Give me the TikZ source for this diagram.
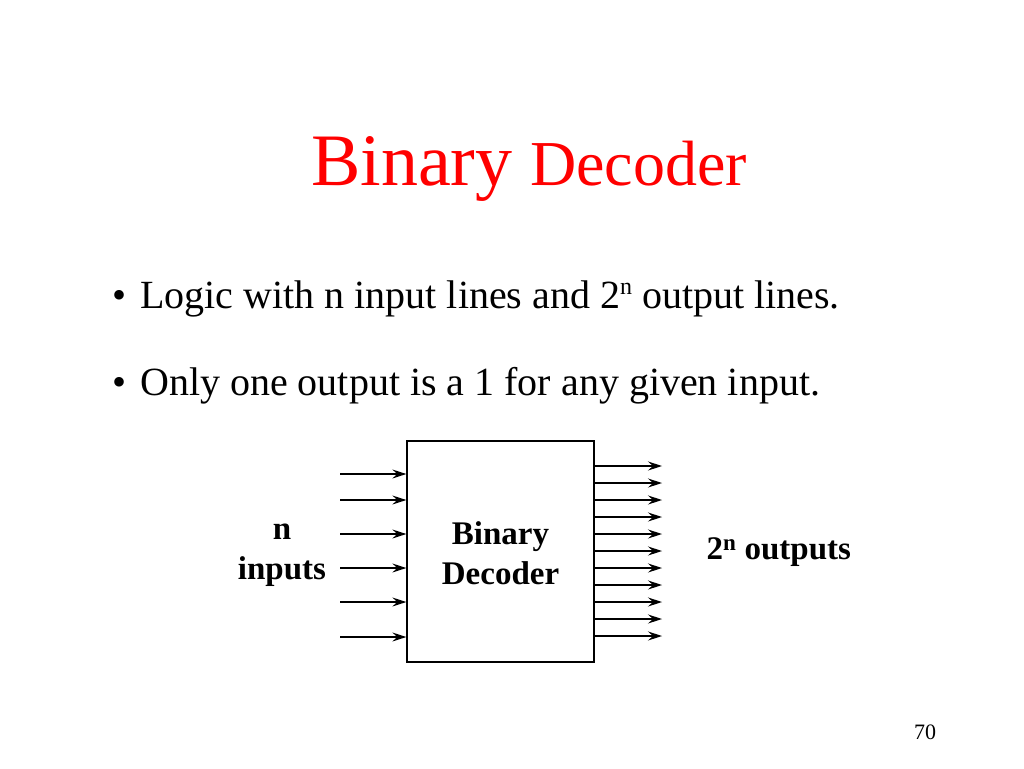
\documentclass[tikz,border=0pt]{standalone}
\usepackage{fontspec}
\usetikzlibrary{arrows.meta}
\setmainfont{Liberation Serif}
\begin{document}
\begin{tikzpicture}[x=1pt,y=-1pt,
  arr/.style={-{Stealth[length=14pt,width=9pt,inset=5pt]},line width=1.3pt},
  lbl/.style={font=\fontsize{33}{40}\selectfont\bfseries,align=center}]
\useasboundingbox (0,0) rectangle (1024,768);
\node[anchor=base west,red,inner sep=0] (t1) at (311,185) {\fontsize{74}{78}\selectfont Binary};
\node[anchor=base west,red,inner sep=0] (t2) at (530,185) {\fontsize{64}{70}\selectfont Decoder};
\node[anchor=base west,inner sep=0] (b1) at (112,308) {\fontsize{40}{44}\selectfont \textbullet\hspace{14pt}Logic with n input lines and 2\raisebox{14pt}{\fontsize{24}{26}\selectfont n} output lines.};
\node[anchor=base west,inner sep=0] (b2) at (112,395) {\fontsize{40}{44}\selectfont \textbullet\hspace{14pt}Only one output is a 1 for any given input.};
\node[draw,line width=1.3pt,minimum width=187pt,minimum height=221pt,inner sep=0] (box) at (500.5,551.5) {};
\node[lbl] (bt) at (500.5,553) {Binary\\Decoder};
\foreach \y [count=\i] in {474,500,534,568,602,637}
  \draw[arr] (340,\y) coordinate (in\i) -- (box.west |- 0,\y);
\foreach \i in {0,...,10}
  \draw[arr] (box.east |- 0,{466+17*\i}) -- (662,{466+17*\i}) coordinate (out\i);
\node[lbl,anchor=center] (ni) at (282,555) {n\\inputs};
\node[lbl,anchor=west] (no) at (703,552) {2\textsuperscript{n} outputs};
\node[inner sep=0] (pg) at (925,732) {\fontsize{22}{24}\selectfont 70};
\end{tikzpicture}
\end{document}
